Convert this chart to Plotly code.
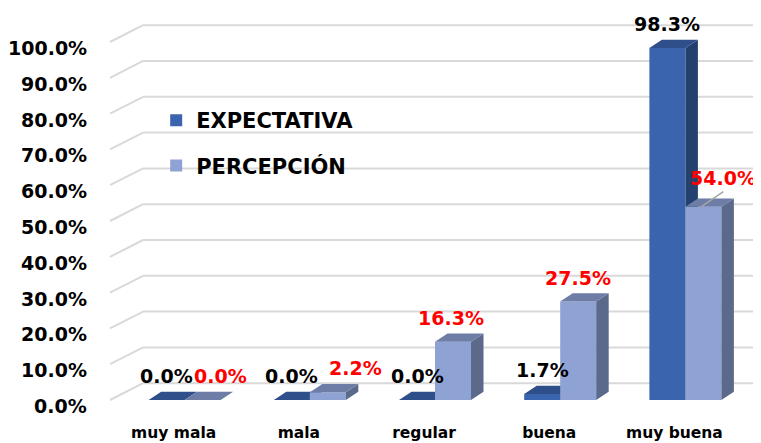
import plotly.graph_objects as go

categorias = ["muy mala", "mala", "regular", "buena", "muy buena"]
expectativa = [0.0, 0.0, 0.0, 1.7, 98.3]
percepcion = [0.0, 2.2, 16.3, 27.5, 54.0]
ticks_y = [0, 10, 20, 30, 40, 50, 60, 70, 80, 90, 100]

# label nudges (px) for the red labels, as in the original
nudge_x_perc = [18, 28, -2, 0, 20]
nudge_y_perc = [24, 24, 24, 24, 29]

FONT = "DejaVu Sans"
azul = dict(front="#3A64AD", side="#24406F", top="#2F4F8A")
claro = dict(front="#8FA2D4", side="#5B6A8B", top="#6D7DA6")

xs = list(range(len(categorias)))
bw = 0.2875          # bar width in x units
dx, dy = 0.1, 2.3    # bar depth
wdx, wdy = 0.264, 4.7  # back wall offset

fig = go.Figure()
fig.add_trace(go.Bar(x=xs, y=expectativa, name="EXPECTATIVA",
                     marker=dict(color=azul["front"], line_width=0), legendgroup="a"))
fig.add_trace(go.Bar(x=xs, y=percepcion, name="PERCEPCIÓN",
                     marker=dict(color=claro["front"], line_width=0), legendgroup="b"))

shapes = []
# back wall gridlines + diagonal side lines
for t in ticks_y:
    shapes.append(dict(type="line", xref="x", yref="y", x0=-0.596 + wdx, x1=4.7,
                       y0=t + wdy, y1=t + wdy, line=dict(color="#D9D9D9", width=2), layer="below"))
    shapes.append(dict(type="line", xref="x", yref="y", x0=-0.596, x1=-0.596 + wdx,
                       y0=t, y1=t + wdy, line=dict(color="#D9D9D9", width=2), layer="below"))


def caras(x0, x1, v, col, layer):
    side = f"M {x1},0 L {x1+dx},{dy} L {x1+dx},{v+dy} L {x1},{v} Z"
    top = f"M {x0},{v} L {x1},{v} L {x1+dx},{v+dy} L {x0+dx},{v+dy} Z"
    return [dict(type="path", xref="x", yref="y", path=side, fillcolor=col["side"],
                 line_width=0, layer=layer),
            dict(type="path", xref="x", yref="y", path=top, fillcolor=col["top"],
                 line_width=0, layer=layer)]


for i, (e, p) in enumerate(zip(expectativa, percepcion)):
    shapes += caras(i - bw, i, e, azul, "between")
    shapes += caras(i, i + bw, p, claro, "above")

# leader line for the moved 54.0% label
shapes.append(dict(type="line", xref="x", yref="y", xsizemode="pixel", ysizemode="pixel",
                   xanchor=4 + bw / 2, yanchor=percepcion[4], x0=-2, y0=0, x1=20, y1=15,
                   line=dict(color="#A6A6A6", width=1.5)))

annotations = []
for t in ticks_y:
    annotations.append(dict(xref="paper", yref="y", x=-0.017, y=t, xanchor="right",
                            yanchor="middle", yshift=-6, showarrow=False, text=f"{t:.1f}%",
                            font=dict(family=FONT, size=19, color="black", weight="bold")))
for i, (e, p) in enumerate(zip(expectativa, percepcion)):
    annotations.append(dict(xref="x", yref="y", x=i - bw / 2, y=e, yshift=24,
                            yanchor="middle", showarrow=False, text=f"{e:.1f}%",
                            font=dict(family=FONT, size=19, color="black", weight="bold")))
    annotations.append(dict(xref="x", yref="y", x=i + bw / 2, y=p, yshift=nudge_y_perc[i],
                            xshift=nudge_x_perc[i], yanchor="middle", showarrow=False,
                            text=f"{p:.1f}%",
                            font=dict(family=FONT, size=19, color="#FF0000", weight="bold")))

# the page puts the figure 8px in from the top-left corner, so it is 8px smaller
fig.update_layout(
    width=753, height=435,
    margin=dict(l=92, r=0, t=0, b=33),
    paper_bgcolor="white", plot_bgcolor="white",
    barmode="group", bargap=0.425, bargroupgap=0,
    shapes=shapes, annotations=annotations,
    legend=dict(x=0.085, y=0.771, xanchor="left", yanchor="top", tracegroupgap=15,
                bgcolor="rgba(0,0,0,0)",
                font=dict(family=FONT, size=21, color="black", weight="bold")),
    xaxis=dict(range=[-0.676, 4.604], tickvals=xs, ticktext=categorias, showgrid=False,
               zeroline=False, showline=False, ticklabelshift=-11, ticklabelstandoff=11,
               automargin=False,
               tickfont=dict(family=FONT, size=15.5, color="black", weight="bold")),
    yaxis=dict(range=[-2.79, 109.5], showgrid=False, zeroline=False, showline=False,
               showticklabels=False, automargin=False),
)

fig.write_html("out.html")
